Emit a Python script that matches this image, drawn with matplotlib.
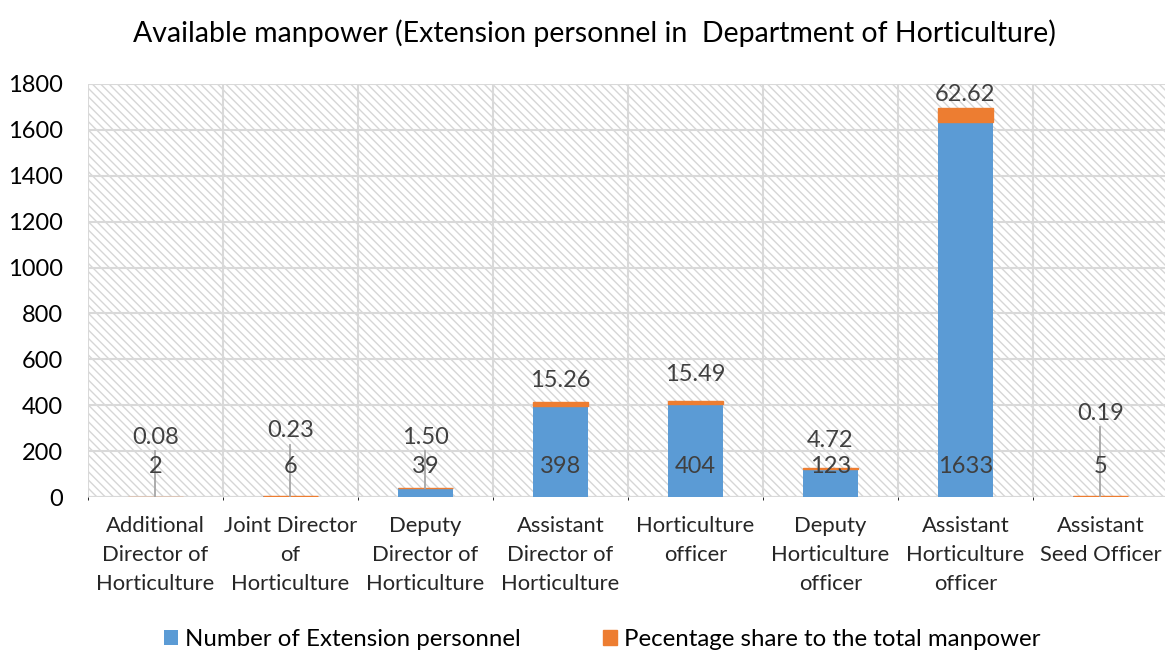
import numpy as np
import matplotlib.pyplot as plt
from matplotlib.patches import Rectangle

# ---- DATA ----
categories = ["Additional\nDirector of\nHorticulture", "Joint Director\nof\nHorticulture",
              "Deputy\nDirector of\nHorticulture", "Assistant\nDirector of\nHorticulture",
              "Horticulture\nofficer", "Deputy\nHorticulture\nofficer",
              "Assistant\nHorticulture\nofficer", "Assistant\nSeed Officer"]
personnel = [2, 6, 39, 398, 404, 123, 1633, 5]
pct_share = [0.08, 0.23, 1.50, 15.26, 15.49, 4.72, 62.62, 0.19]
# where Excel left the (dragged) percentage labels, in data units
pct_label_y = [261, 288, 261, 510, 532, 248, 1756, 366]

BLUE = "#5B9BD5"
ORANGE = "#ED7D31"
GRID = "#D9D9D9"
TXT = "#404040"

plt.rcParams['font.family'] = ['Lato', 'DejaVu Sans']
plt.rcParams['hatch.linewidth'] = 1.0

fig = plt.figure(figsize=(11.65, 6.54), dpi=100)
ax = fig.add_axes([0.0755, 0.240, 0.927, 0.6316])

# hatched background
ax.add_patch(Rectangle((0, 0), 1, 1, transform=ax.transAxes, facecolor="white",
                       edgecolor="#D6D6D6", hatch="\\\\\\\\", lw=0, zorder=0))

x = np.arange(len(categories))
w = 0.41
ax.bar(x, personnel, w, color=BLUE, label="Number of Extension personnel", zorder=3)
ax.bar(x, pct_share, w, bottom=personnel, color=ORANGE, edgecolor=ORANGE, lw=1,
       label="Pecentage share to the total manpower", zorder=3)

# data labels
for i in range(len(x)):
    ax.text(x[i], 131, str(personnel[i]), ha="center", va="center",
            fontsize=17, color=TXT, zorder=5)
    top = personnel[i] + pct_share[i]
    ax.text(x[i], pct_label_y[i], f"{pct_share[i]:.2f}", ha="center", va="center",
            fontsize=17, color=TXT, zorder=5)
    # leader lines for labels moved far from their segment
    if pct_label_y[i] - top > 150:
        ax.plot([x[i], x[i]], [top, pct_label_y[i] - 60], color="#A6A6A6",
                lw=1.3, zorder=4)

ax.set_xlim(-0.5, len(categories) - 0.5)
ax.set_ylim(0, 1800)
ax.set_yticks(range(0, 1801, 200))
ax.set_xticks(x)
ax.set_xticklabels(categories, fontsize=15.8, linespacing=1.55, color="#262626")
ax.set_xticks(np.arange(-0.5, len(categories), 1), minor=True)
ax.tick_params(axis="both", length=0)
ax.tick_params(axis="y", labelsize=17, pad=18)
ax.tick_params(axis="x", pad=14)

ax.grid(True, axis="y", color=GRID, lw=1.5, zorder=1)
ax.grid(True, axis="x", which="minor", color=GRID, lw=1.5, zorder=1)
ax.set_axisbelow(True)
for s in ax.spines.values():
    s.set_visible(False)
ax.axhline(0, color=GRID, lw=1.5, zorder=2)

fig.text(0.51, 0.95, "Available manpower (Extension personnel in  Department of Horticulture)",
         ha="center", va="center", fontsize=20.5)

fig.legend(loc="center", bbox_to_anchor=(0.517, 0.022), ncol=2, frameon=False,
           fontsize=17.3, handlelength=0.6, handleheight=0.6, handletextpad=0.3,
           columnspacing=3.4)

fig.savefig("out.png", dpi=100)
